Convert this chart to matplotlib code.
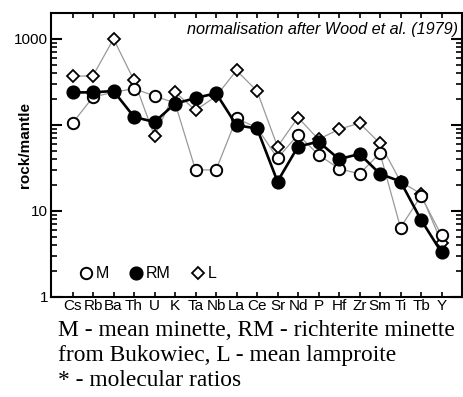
import numpy as np
import matplotlib
matplotlib.use('Agg')
import matplotlib.pyplot as plt
from matplotlib.lines import Line2D
from matplotlib.ticker import LogLocator, NullFormatter, FixedFormatter, FixedLocator

plt.rcParams['font.family'] = ['Liberation Sans', 'DejaVu Sans']

elements = ['Cs', 'Rb', 'Ba', 'Th', 'U', 'K', 'Ta', 'Nb', 'La', 'Ce',
            'Sr', 'Nd', 'P', 'Hf', 'Zr', 'Sm', 'Ti', 'Tb', 'Y']
M = [105, 211, 240, 264, 217, 180, 30, 30, 119, 93,
     41, 77, 45, 31, 27, 47, 6.4, 15, 5.2]
RM = [239, 239, 248, 124, 108, 177, 205, 234, 99, 91,
      22, 56, 64, 40, 46, 27, 22, 7.9, 3.3]
L = [366, 374, 1000, 329, 74, 241, 148, 215, 430, 248,
     56, 122, 68, 89, 105, 61, 22, 15.8, 4.3]
legend_labels = ['M', 'RM', 'L']

W, H = 464, 397
fig = plt.figure(figsize=(W / 100, H / 100), dpi=100)
ax = fig.add_axes([51 / W, 1 - 297 / H, 411 / W, 284 / H])

x = np.arange(len(elements))
ax.plot(x, L, color='#999999', lw=0.9, marker='D', ms=6, mfc='white',
        mec='black', mew=1.3, zorder=2)
ax.plot(x, M, color='#999999', lw=0.9, marker='o', ms=8.2, mfc='white',
        mec='black', mew=1.4, zorder=3)
ax.plot(x, RM, color='black', lw=1.9, marker='o', ms=9.2, mfc='black',
        mec='black', zorder=4)

ax.set_yscale('log')
ax.set_ylim(1, 2000)
ax.set_xlim(-1.05, 19)

ax.yaxis.set_major_locator(FixedLocator([1, 10, 100, 1000]))
ax.yaxis.set_major_formatter(FixedFormatter(['1', '10', '', '1000']))
ax.yaxis.set_minor_locator(LogLocator(base=10, subs=np.arange(2, 10)))
ax.yaxis.set_minor_formatter(NullFormatter())
ax.tick_params(axis='y', which='major', direction='in', length=8, width=1.5,
               right=True, labelsize=11, pad=2)
ax.tick_params(axis='y', which='minor', direction='in', length=4, width=1.2,
               right=True)

ax.set_xticks(x)
ax.set_xticklabels(elements)
ax.tick_params(axis='x', which='major', direction='in', length=3.5, width=1.2,
               top=True, labelsize=11, pad=1.5)
ax.tick_params(axis='x', which='minor', bottom=False, top=False)

for s in ax.spines.values():
    s.set_linewidth(1.5)

fig.text(25 / W, 1 - 145 / H, 'rock/mantle', rotation=90, fontsize=11,
         fontweight='bold', ha='center', va='center')

ax.text(0.99, 0.97, 'normalisation after Wood et al. (1979)', transform=ax.transAxes,
        ha='right', va='top', fontsize=11.7, style='italic')

handles = [
    Line2D([], [], ls='none', marker='o', ms=8.2, mfc='white', mec='black', mew=1.4),
    Line2D([], [], ls='none', marker='o', ms=9.2, mfc='black', mec='black'),
    Line2D([], [], ls='none', marker='D', ms=6, mfc='white', mec='black', mew=1.3),
]
ax.legend(handles, legend_labels, ncol=3, loc='center left',
          bbox_to_anchor=(0.07, 0.081), frameon=False, fontsize=11.5,
          handlelength=0.8, handletextpad=0.2, columnspacing=1.3,
          borderaxespad=0, borderpad=0)

caption = ['M - mean minette, RM - richterite minette',
           'from Bukowiec, L - mean lamproite',
           '* - molecular ratios']
for i, line in enumerate(caption):
    fig.text(58 / W, 1 - (336 + 25 * i) / H, line, fontsize=16.9,
             family='Liberation Serif', ha='left', va='baseline')

fig.savefig('out.png', dpi=100)
